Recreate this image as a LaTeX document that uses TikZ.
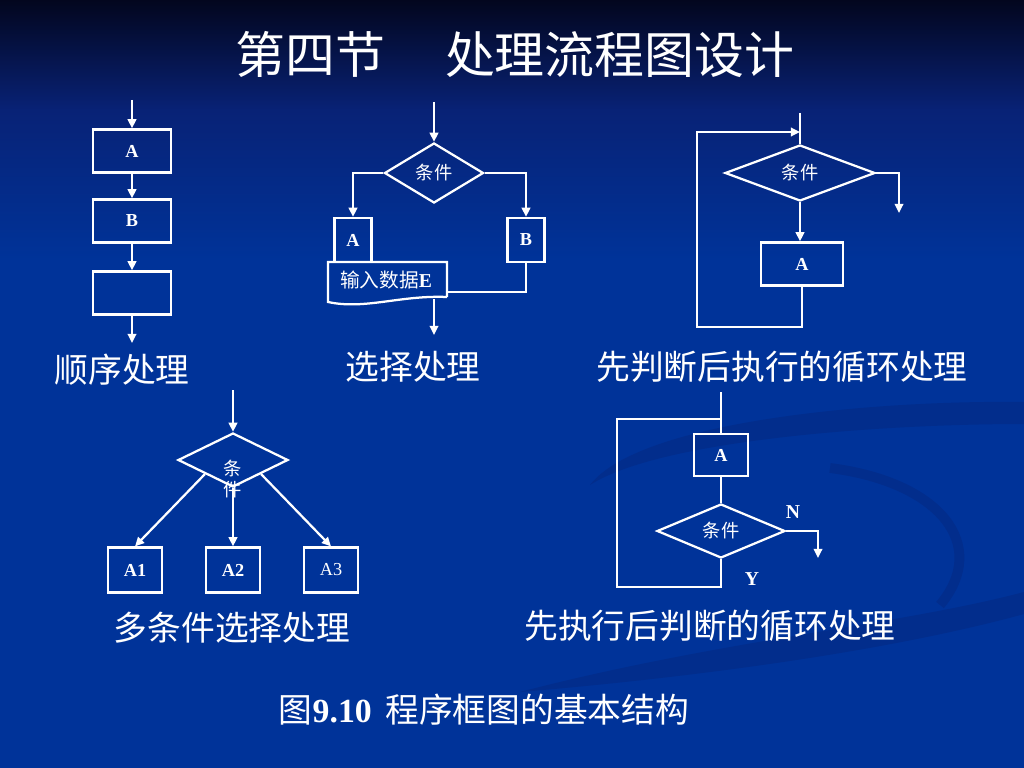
\documentclass[tikz,border=0pt]{standalone}
\usepackage{fontspec}
\setmainfont{Liberation Serif}
\newfontfamily\cjk{Noto Sans CJK SC}
\usetikzlibrary{arrows.meta}
\usetikzlibrary{shapes.geometric}
\usetikzlibrary{positioning}
\definecolor{bgblue}{RGB}{0,51,153}
\definecolor{bgmid}{RGB}{8,34,118}
\definecolor{bgdark}{RGB}{3,6,30}
\definecolor{swirl}{RGB}{5,38,125}

\begin{document}
\begin{tikzpicture}[x=0.025cm,y=-0.025cm,
    every node/.style={text=white},
    box/.style={draw=white,line width=1.6pt,rectangle,minimum width=1.95cm,minimum height=1.075cm,inner sep=0pt,font=\fontsize{13}{15}\selectfont\bfseries},
    cond/.style={draw=white,line width=1.6pt,diamond,inner sep=0pt,font=\cjk\fontsize{13}{15}\selectfont},
    flow/.style={draw=white,line width=1.6pt,-{Triangle[length=6.5pt,width=6pt]}},
    link/.style={draw=white,line width=1.6pt},
    caption/.style={font=\cjk\fontsize{24}{28}\selectfont}]
  \useasboundingbox (0,0) rectangle (1024,768);
  %background
  \fill[bgblue] (0,0) rectangle (1024,768);
  \shade[top color=bgdark, bottom color=bgmid] (0,0) rectangle (1024,110);
  \shade[top color=bgmid, bottom color=bgblue] (0,110) rectangle (1024,260);
  \fill[swirl,opacity=0.45] (590,485) .. controls (640,420) and (880,400) .. (1024,402) -- (1024,424) .. controls (880,424) and (660,440) .. (590,485) -- cycle;
  \draw[swirl,opacity=0.45,line width=7pt] (830,468) .. controls (940,482) and (990,545) .. (940,605);
  \fill[swirl,opacity=0.45] (520,692) .. controls (720,640) and (900,625) .. (1024,592) -- (1024,614) .. controls (900,648) and (720,675) .. (520,692) -- cycle;

  \node[font=\cjk\fontsize{35.5}{42}\selectfont] (title) at (515,54) {第四节\hspace{1.2em}处理流程图设计};

  %sequence
  \coordinate (sin) at (132,100);
  \coordinate (sout) at (132,343);
  \node[box] (sa) at (132,151) {A};
  \node[box] (sb) at (132,221) {B};
  \node[box] (sc) at (132,293) {};
  \draw[flow] (sin) -- (sa);
  \draw[flow] (sa) -- (sb);
  \draw[flow] (sb) -- (sc);
  \draw[flow] (sc) -- (sout);
  \node[caption] (scap) at (122,370) {顺序处理};

  %selection
  \coordinate (xin) at (434,102);
  \coordinate (xj) at (447,292);
  \coordinate (xd) at (434,299);
  \coordinate (xout) at (434,335);
  \node[cond,minimum width=2.475cm,minimum height=1.5cm] (xc) at (434,173) {条件};
  \node[box,minimum width=0.925cm,minimum height=1.1cm] (xa) at (353,240) {A};
  \node[box,minimum width=0.925cm,minimum height=1.1cm] (xb) at (526,240) {B};
  \draw[link] (447,297) -- (447,262) -- (328,262) -- (328,302) .. controls (365,310) and (400,295) .. (447,297);
  \node[font=\cjk\fontsize{14}{16}\selectfont] (xdata) at (386,280) {输入数据{\rmfamily\bfseries E}};
  \draw[flow] (xin) -- (xc);
  \draw[flow] (xc.west) -| (xa);
  \draw[flow] (xc.east) -| (xb);
  \draw[link] (xb) |- (xj);
  \draw[flow] (xd) -- (xout);
  \node[caption] (xcap) at (413,367) {选择处理};

  %while loop
  \coordinate (wtop) at (800,113);
  \coordinate (wb) at (697,327);
  \coordinate (wk) at (800,132);
  \coordinate (wout) at (899,213);
  \node[cond,minimum width=3.75cm,minimum height=1.4cm] (wc) at (800,173) {条件};
  \node[box,minimum width=2.05cm] (wa) at (802,264) {A};
  \draw[link] (wtop) -- (wc);
  \draw[flow] (wc) -- (wc |- wa.north);
  \draw[flow] (wc.east) -| (wout);
  \draw[flow] (wa) |- (wb) |- (wk);
  \node[caption] (wcap) at (782,367) {先判断后执行的循环处理};

  %multiple branches
  \coordinate (min) at (233,390);
  \node[cond,minimum width=2.75cm,minimum height=1.35cm] (mc) at (233,460) {};
  \node[font=\cjk\fontsize{13}{15}\selectfont,align=center] (mct) at (233,479) {条\\件};
  \node[box,minimum width=1.35cm,minimum height=1.125cm] (ma) at (135,570) {A1};
  \node[box,minimum width=1.35cm,minimum height=1.125cm] (mb) at (233,570) {A2};
  \node[box,minimum width=1.35cm,minimum height=1.125cm,font=\fontsize{13}{15}\selectfont] (md) at (331,570) {A3};
  \draw[flow] (min) -- (mc);
  \draw[flow] (mc.south west) -- (ma.north);
  \draw[flow] (mc.south) -- (mb.north);
  \draw[flow] (mc.south east) -- (md.north);
  \node[caption] (mcap) at (232,628) {多条件选择处理};

  %do-while loop
  \coordinate (dtop) at (721,392);
  \coordinate (dk) at (721,419);
  \coordinate (db) at (617,587);
  \coordinate (dout) at (818,558);
  \node[box,minimum width=1.35cm,minimum height=1.05cm] (da) at (721,455) {A};
  \node[cond,minimum width=3.2cm,minimum height=1.35cm] (dc) at (721,531) {条件};
  \draw[link] (dtop) -- (da);
  \draw[link] (da) -- (dc);
  \draw[flow] (dc.east) -| (dout);
  \draw[link] (dc) |- (db) |- (dk);
  \node[font=\fontsize{14}{16}\selectfont\bfseries] (dn) at (793,512) {N};
  \node[font=\fontsize{14}{16}\selectfont\bfseries] (dy) at (752,579) {Y};
  \node[caption] (dcap) at (710,626) {先执行后判断的循环处理};

  \node[font=\cjk\fontsize{24}{28}\selectfont] (fig) at (484,710) {图{\rmfamily\bfseries 9.10}\hspace{0.4em}程序框图的基本结构};
\end{tikzpicture}
\end{document}
